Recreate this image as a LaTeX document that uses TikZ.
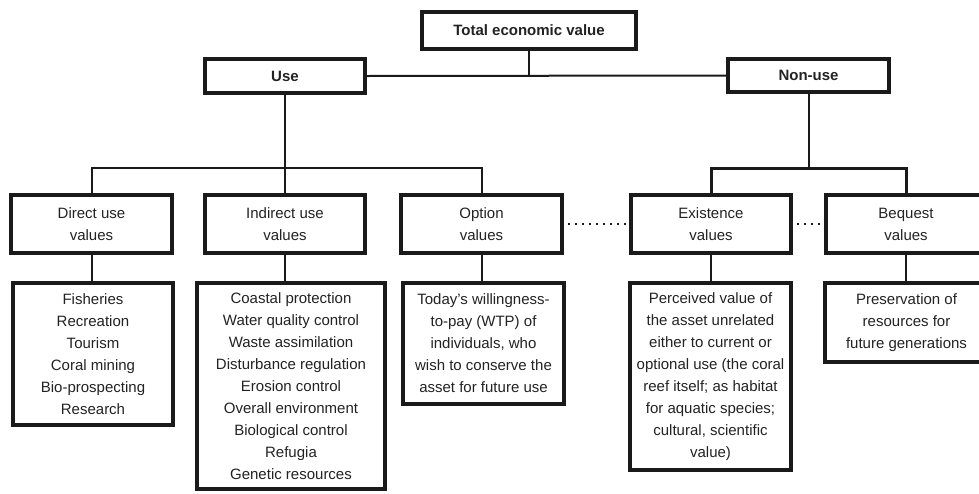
\documentclass[tikz,border=0pt]{standalone}
\usepackage{fontspec}
\setmainfont{Liberation Sans}
\definecolor{ink}{HTML}{1A1A1A}
\definecolor{txt}{HTML}{222222}
\tikzset{
  box/.style={draw=ink, line width=4pt, rectangle, inner sep=0pt, align=center,
    text=txt, font=\fontsize{15}{22}\selectfont},
  boldbox/.style={box, font=\bfseries\fontsize{15}{22}\selectfont},
  conn/.style={draw=ink, line width=2pt},
  dotline/.style={draw=ink, line width=2.6pt, dash pattern=on 2.4pt off 4.6pt},
}
\begin{document}
\begin{tikzpicture}[x=1pt,y=-1pt]
\useasboundingbox (0,0) rectangle (979,493);
\clip (0,0) rectangle (979,493);
% level 1
\node[boldbox, minimum width=214pt, minimum height=37pt] (total) at (529,30.5) {Total economic value};
\node[boldbox, minimum width=160pt, minimum height=34pt] (use) at (285,76) {Use};
\node[boldbox, minimum width=161pt, minimum height=33pt] (nonuse) at (808.5,75.5) {Non-use};
% level 2
\node[box, minimum width=161pt, minimum height=58pt] (direct) at (91.5,224) {Direct use\\values};
\node[box, minimum width=160pt, minimum height=58pt] (indirect) at (285,224) {Indirect use\\values};
\node[box, minimum width=161pt, minimum height=58pt] (option) at (481.5,224) {Option\\values};
\node[box, minimum width=160pt, minimum height=58pt] (existence) at (711,224) {Existence\\values};
\node[box, minimum width=160pt, minimum height=58pt] (bequest) at (906,224) {Bequest\\values};
% level 3
\node[box, minimum width=160pt, minimum height=142pt] (directitems) at (93,354)
  {Fisheries\\Recreation\\Tourism\\Coral mining\\Bio-prospecting\\Research};
\node[box, minimum width=188pt, minimum height=206pt] (indirectitems) at (291,386)
  {Coastal protection\\Water quality control\\Waste assimilation\\Disturbance regulation\\Erosion control\\Overall environment\\Biological control\\Refugia\\Genetic resources};
\node[box, minimum width=161pt, minimum height=121pt] (optionitems) at (483.5,343.5)
  {Today’s willingness-\\to-pay (WTP) of\\individuals, who\\wish to conserve the\\asset for future use};
\node[box, minimum width=161pt, minimum height=187pt] (existenceitems) at (710.5,376.5)
  {Perceived value of\\the asset unrelated\\either to current or\\optional use (the coral\\reef itself; as habitat\\for aquatic species;\\cultural, scientific\\value)};
\node[box, minimum width=163pt, minimum height=79pt] (bequestitems) at (906.5,322.5)
  {Preservation of\\resources for\\future generations};
% connectors level 1
\coordinate (usebar) at (0,168);
\draw[conn] (use.east) -- (nonuse.west);
\draw[conn] (total.south) -- (total.south |- use.east);
\draw[conn] (use.south) -- (indirect.north);
\draw[conn] (direct.north) -- (direct.north |- usebar) -- (option.north |- usebar) -- (option.north);
\draw[conn] (nonuse.south) -- (nonuse.south |- usebar);
\draw[conn, line width=3pt] (existence.north) -- (existence.north |- usebar) -- (bequest.north |- usebar) -- (bequest.north);
% connectors level 2 -> 3
\draw[conn] (direct.south) -- (direct.south |- directitems.north);
\draw[conn] (indirect.south) -- (indirect.south |- indirectitems.north);
\draw[conn] (option.south) -- (option.south |- optionitems.north);
\draw[conn] (existence.south) -- (existence.south |- existenceitems.north);
\draw[conn] (bequest.south) -- (bequest.south |- bequestitems.north);
% dotted links
\draw[dotline] ([xshift=4pt]option.east) -- ([xshift=-3pt]existence.west);
\draw[dotline] ([xshift=4pt]existence.east) -- ([xshift=-3pt]bequest.west);
\end{tikzpicture}
\end{document}
